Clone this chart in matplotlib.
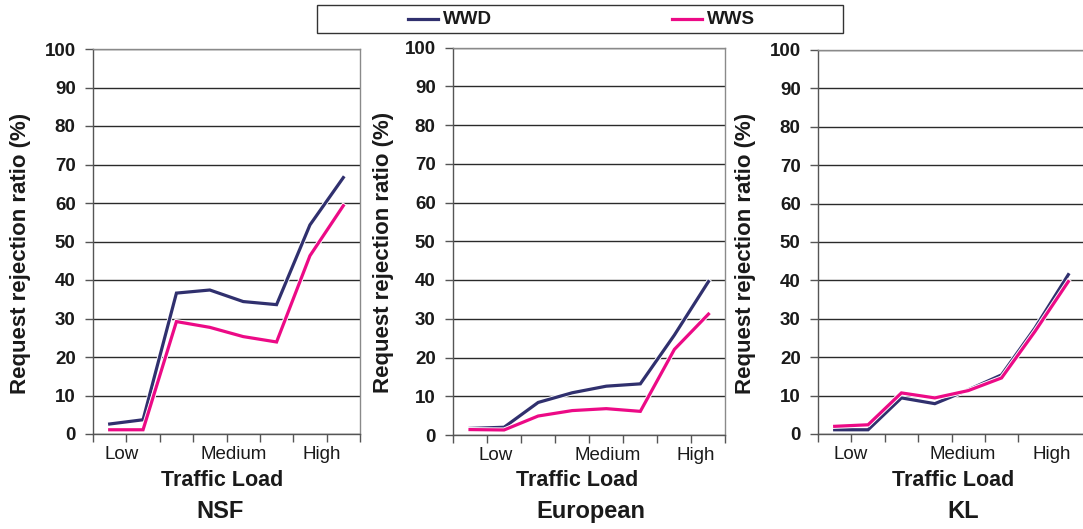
import matplotlib
matplotlib.use("Agg")
import matplotlib.pyplot as plt
import matplotlib.patheffects as pe
from matplotlib.lines import Line2D
from matplotlib.patches import Rectangle
import numpy as np

plt.rcParams['font.family'] = ['Liberation Sans', 'DejaVu Sans']

# ---- data -------------------------------------------------------------
networks = ["NSF", "European", "KL"]
series_names = ["WWD", "WWS"]
load_labels = ["Low", "Medium", "High"]
n_loads = 8

wwd_nsf = [2.6, 3.7, 36.6, 37.4, 34.4, 33.6, 54.3, 66.6]
wws_nsf = [1.1, 1.1, 29.2, 27.7, 25.3, 23.9, 46.3, 59.3]

wwd_eu = [1.7, 2.0, 8.4, 10.9, 12.6, 13.2, 25.8, 39.6]
wws_eu = [1.4, 1.3, 4.9, 6.3, 6.8, 6.1, 22.1, 31.2]

wwd_kl = [1.1, 1.1, 9.4, 7.9, 11.5, 15.4, 27.6, 41.5]
wws_kl = [2.0, 2.4, 10.7, 9.4, 11.3, 14.6, 26.7, 39.7]

values = {
    "NSF": [wwd_nsf, wws_nsf],
    "European": [wwd_eu, wws_eu],
    "KL": [wwd_kl, wws_kl],
}

colors = ["#30306E", "#EC0A86"]

# ---- layout (pixels) ---------------------------------------------------
W, H = 1083, 529
panel_px = [(93, 49, 360, 434), (453, 47.5, 725.5, 435), (818, 50, 1085, 434)]
load_label_x = [[0.37, 3.72, 6.36], [0.74, 4.03, 6.62], [0.49, 3.85, 6.5]]
ylabel_right = [31, 394, 756]
xlabel_cx = [222, 577, 953]
title_cx = [220, 591, 963]

fig = plt.figure(figsize=(W / 100, H / 100), dpi=100)

def fx(px):
    return px / W

def fy(py):
    return 1 - py / H

x = np.arange(n_loads)
line_handles = []
for i, net in enumerate(networks):
    l, t, r, b = panel_px[i]
    ax = fig.add_axes([fx(l), fy(b), (r - l) / W, (b - t) / H])
    ax.set_xlim(-0.5, n_loads - 0.5)
    ax.set_ylim(0, 100)
    ax.set_yticks(np.arange(0, 101, 10))
    ax.yaxis.grid(True, color="#2a2a2a", linewidth=1.0)
    ax.set_axisbelow(True)
    for s in ["top", "right"]:
        ax.spines[s].set_color("#8a8a8a")
        ax.spines[s].set_linewidth(1.0)
    for s in ["left", "bottom"]:
        ax.spines[s].set_color("#555555")
        ax.spines[s].set_linewidth(1.0)

    # category boundaries as tick marks, labels placed between them
    ax.set_xticks(np.arange(-0.5, n_loads, 1.0), minor=True)
    ax.tick_params(axis="x", which="minor", length=6, width=1.0, color="#555555")
    ax.set_xticks(load_label_x[i])
    ax.set_xticklabels(load_labels)
    ax.tick_params(axis="x", which="major", length=0, pad=8.5, labelsize=13.5,
                   labelcolor="#1a1a1a")
    ax.tick_params(axis="y", length=6, width=1.0, color="#555555", pad=6.5,
                   labelsize=13.5, labelcolor="#1a1a1a")
    for lab in ax.get_yticklabels():
        lab.set_fontweight("bold")

    for k, name in enumerate(series_names):
        ln, = ax.plot(x, values[net][k], color=colors[k], linewidth=2.3,
                      solid_joinstyle="miter", label=name,
                      path_effects=[pe.Stroke(linewidth=3.6, foreground="white"),
                                    pe.Normal()])
        if i == 0:
            line_handles.append(ln)

    ax.set_ylabel("Request rejection ratio (%)", fontsize=16,
                  fontweight="bold", color="#1a1a1a")
    ax.yaxis.set_label_coords((ylabel_right[i] - l) / (r - l), 0.47)

    fig.text(fx(xlabel_cx[i]), fy(486), "Traffic Load", ha="center",
             va="baseline", fontsize=15.5, fontweight="bold", color="#1a1a1a")
    fig.text(fx(title_cx[i]), fy(518), net, ha="center", va="baseline",
             fontsize=17, fontweight="bold", color="#1a1a1a")

# ---- legend box --------------------------------------------------------
box = Rectangle((fx(317), fy(33)), (843 - 317) / W, 28 / H,
                transform=fig.transFigure, facecolor="white",
                edgecolor="#333333", linewidth=1.0)
fig.add_artist(box)
legend_x = [408, 672]
for h, lx in zip(line_handles, legend_x):
    fig.add_artist(Line2D([fx(lx), fx(lx + 30)], [fy(19), fy(19)],
                          transform=fig.transFigure, color=h.get_color(),
                          linewidth=2.3))
    fig.text(fx(lx + 35), fy(19), h.get_label(), ha="left", va="center",
             fontsize=13.5, fontweight="bold", color="#1a1a1a")

fig.savefig("out.png", dpi=100)
